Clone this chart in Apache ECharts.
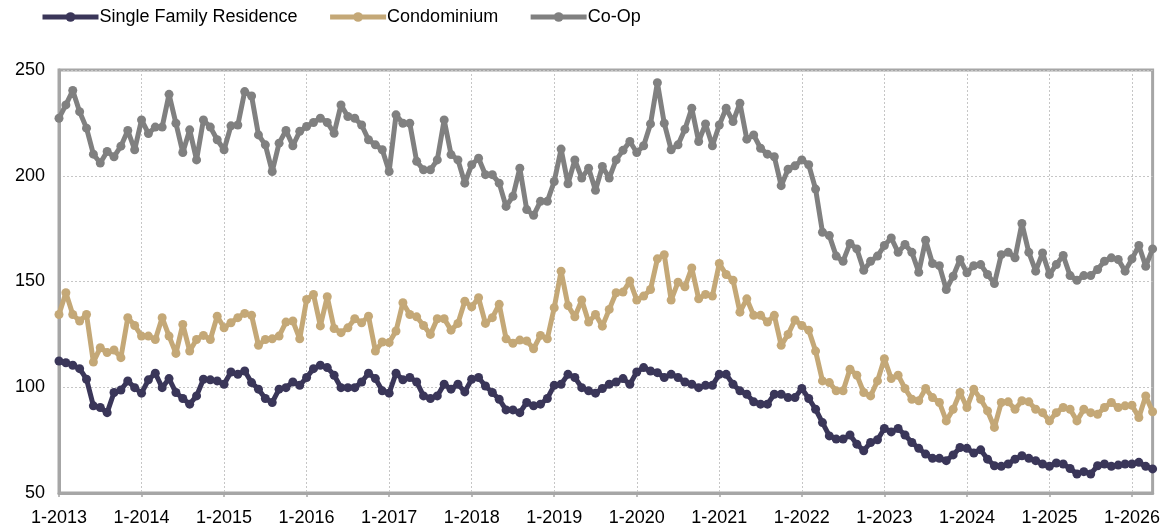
<!DOCTYPE html>
<html>
<head>
<meta charset="utf-8">
<script src="https://cdn.jsdelivr.net/npm/echarts@6/dist/echarts.min.js"></script>
<style>
  html, body { margin: 0; padding: 0; background: #fff; }
  #chart { width: 1163px; height: 527px; }
</style>
</head>
<body>
<div id="chart"></div>
<script>
// monthly, 1-2013 .. 4-2026
const startYear = 2013
const monthCount = 160

const singleFamily = [
  112.4, 111.6, 110.4, 108.8, 103.8, 91.2, 90.4, 88, 97.5, 98.7, 103, 99.8,
  97.2, 103.5, 106.6, 99.8, 104.1, 97.5, 94.7, 92, 95.9, 103.8, 103.5, 103,
  101.4, 107.2, 106.1, 107.7, 102.2, 99.1, 94.7, 92.8, 99.1, 99.8, 102.5, 100.9,
  104.6, 108.8, 110.4, 109.3, 105.7, 99.8, 99.8, 99.8, 102.5, 106.6, 104.1, 98.3,
  97.2, 106.6, 103.5, 104.6, 102.5, 95.9, 94.7, 95.9, 101.4, 99.1, 101.4, 97.8,
  103.8, 104.6, 100.6, 97.5, 94.3, 89.3, 89.3, 88, 92.8, 91.2, 92, 94.7,
  100.9, 101.4, 106.1, 104.6, 99.8, 98.3, 97.2, 99.4, 101.4, 102.5, 104.1, 101.4,
  107.2, 109.3, 107.7, 106.9, 104.6, 106.1, 104.6, 102.5, 101.4, 99.8, 100.9, 100.9,
  106.1, 106.1, 101.4, 98.3, 96.7, 93.1, 92, 92, 96.7, 96.7, 95.1, 95.1,
  99.4, 94.7, 89.6, 83.3, 77, 75.5, 75.5, 77.4, 73.1, 70, 73.9, 75.2,
  80.5, 78.9, 80.5, 77.4, 73.9, 71.1, 68.4, 66.4, 66.4, 65.3, 68, 71.5,
  71.1, 68.9, 70.4, 66, 62.9, 62.6, 63.7, 66, 67.6, 66.4, 65.3, 63.7,
  62.6, 64.2, 63.7, 61.6, 59, 60.1, 59, 62.9, 63.7, 62.6, 63.2, 63.7,
  63.7, 64.5, 62.6, 61.4
]

const condominium = [
  134.4, 144.7, 134.4, 131.3, 134.4, 111.9, 118.7, 116.4, 117.6, 114, 132.9, 129.2,
  124.2, 124.2, 122.6, 132.9, 124.2, 116, 129.7, 117.1, 122.6, 124.5, 122.6, 133.6,
  128.1, 130.5, 132.9, 134.9, 134, 119.8, 122.6, 122.9, 124.2, 130.8, 131.3, 122.9,
  141.5, 143.9, 129, 142.8, 127.8, 125.8, 128.1, 132.4, 130.5, 133.6, 117.1, 121.4,
  121.1, 126.6, 140, 134.4, 133.3, 129.2, 125, 132.4, 132.4, 127, 130.2, 140.7,
  138, 142.3, 130.2, 132.9, 139.2, 122.9, 120.8, 122.3, 121.9, 118.2, 124.5, 122.9,
  137.6, 154.9, 138.6, 133.3, 141.2, 130.8, 134.4, 128.9, 136.8, 144.7, 145, 150.2,
  141.2, 143.1, 146.2, 160.7, 162.7, 141.2, 149.7, 147.5, 156.4, 141.8, 143.9, 143.1,
  158.5, 153.3, 150.6, 135.5, 141.8, 134, 134, 130.8, 134, 119.8, 125, 131.8,
  129.2, 127, 117.1, 103, 102.2, 98.3, 98.3, 108.5, 105.7, 97.5, 95.9, 103,
  113.5, 104.1, 105.7, 99.4, 94.3, 93.6, 99.4, 95.1, 92.8, 84.1, 89.6, 97.5,
  90.4, 99.1, 94.3, 88.8, 81, 92.8, 93.1, 89.6, 93.6, 93.1, 89.6, 88,
  84.1, 88, 90.4, 89.6, 84.1, 89.6, 88, 87.2, 90.4, 92.8, 90.4, 91.2,
  91.5, 85.7, 95.9, 88.4
]

const coOp = [
  227.2, 233.5, 240.3, 230.3, 222.5, 210.2, 206, 211.5, 209, 214, 221.4, 212.3,
  226.4, 220, 223, 223, 238.5, 224.8, 211, 221.7, 207.5, 226.4, 223, 217,
  212.3, 223.6, 224, 239.8, 237.7, 219.3, 214.6, 202, 215.4, 221.4, 214.2, 221,
  223.3, 225.2, 227.2, 225.2, 220.1, 233.5, 228, 227.2, 224, 217, 214.6, 212.3,
  202, 228.8, 224.8, 224.8, 206.8, 202.8, 202.8, 207.5, 226.4, 210, 207.5, 196.5,
  205.2, 208.3, 200.5, 200.5, 196.5, 185.5, 190.3, 203.6, 184, 181.3, 187.9, 187.9,
  197.3, 212.6, 196.2, 207.5, 198.9, 203.6, 193.1, 204.4, 198.9, 207.5, 212, 216.2,
  211, 214.2, 224.5, 244, 224.8, 212.3, 214.6, 222, 231.9, 216.2, 224.5, 214.2,
  224, 231.9, 225.6, 234.3, 217.3, 219.3, 213, 210.2, 209, 195.3, 203.1, 204.7,
  207.5, 205.2, 193.7, 173.3, 171.7, 162, 159.6, 168, 165.4, 155.3, 159.6, 162,
  167, 170.6, 163.8, 167.5, 163.8, 154.4, 169.5, 158.5, 157.5, 146.2, 152.5, 160.4,
  154.1, 157.5, 158, 153.3, 149, 162.7, 163.8, 161.2, 177.4, 163.8, 154.9, 163.5,
  153.3, 158, 162.3, 152.8, 150.6, 152.8, 152.8, 155.7, 159.6, 161.2, 160.4, 154.9,
  160.7, 167, 157.2, 165.4
]

const yTicks = [50, 100, 150, 200, 250]

const months = []
for (let i = 0; i < monthCount; i++) {
  months.push((i % 12 + 1) + '-' + (startYear + Math.floor(i / 12)))
}

const axisGray = '#a6a6a6'
const gridGray = '#c6c6c6'
const font = '"Liberation Sans", Arial, Helvetica, sans-serif'

const makeSeries = (name, data, color) => ({
  name,
  type: 'line',
  data,
  symbol: 'circle',
  symbolSize: 9,
  showSymbol: true,
  showAllSymbol: true,
  lineStyle: { width: 5, color },
  itemStyle: { color },
  emphasis: { disabled: true },
  animation: false
})

const chart = echarts.init(document.getElementById('chart'))
chart.setOption({
  backgroundColor: '#fff',
  animation: false,
  textStyle: { fontFamily: font },
  legend: {
    left: 35,
    top: 3,
    itemWidth: 56,
    itemHeight: 12,
    itemGap: 30,
    lineStyle: { width: 5 },
    textStyle: { fontSize: 18, color: '#000', fontFamily: font, padding: [0, 0, 0, -4] },
    data: ['Single Family Residence', 'Condominium', 'Co-Op']
  },
  grid: {
    left: 59,
    right: 8,
    top: 70,
    bottom: 33,
    show: true,
    borderColor: axisGray,
    borderWidth: 3,
    containLabel: false
  },
  xAxis: {
    type: 'category',
    data: months,
    boundaryGap: false,
    axisLine: { lineStyle: { color: axisGray, width: 3 } },
    axisTick: {
      show: true,
      length: 4,
      interval: (i) => i % 12 === 0,
      lineStyle: { color: axisGray, width: 1.5 }
    },
    axisLabel: {
      interval: (i) => i % 12 === 0,
      color: '#000',
      fontSize: 18,
      margin: 16,
      fontFamily: font
    },
    splitLine: {
      show: true,
      interval: (i) => i % 12 === 0,
      lineStyle: { color: gridGray, type: [2, 2], width: 1 }
    }
  },
  yAxis: {
    type: 'value',
    min: yTicks[0],
    max: yTicks[yTicks.length - 1],
    interval: 50,
    axisLine: { show: true, lineStyle: { color: axisGray, width: 3 } },
    axisTick: { show: false },
    axisLabel: { color: '#000', fontSize: 18, margin: 14, fontFamily: font },
    splitLine: { show: true, lineStyle: { color: gridGray, type: [2, 2], width: 1 } }
  },
  series: [
    makeSeries('Single Family Residence', singleFamily, '#3a3659'),
    makeSeries('Condominium', condominium, '#c4a877'),
    makeSeries('Co-Op', coOp, '#808080')
  ]
})
</script>
</body>
</html>
